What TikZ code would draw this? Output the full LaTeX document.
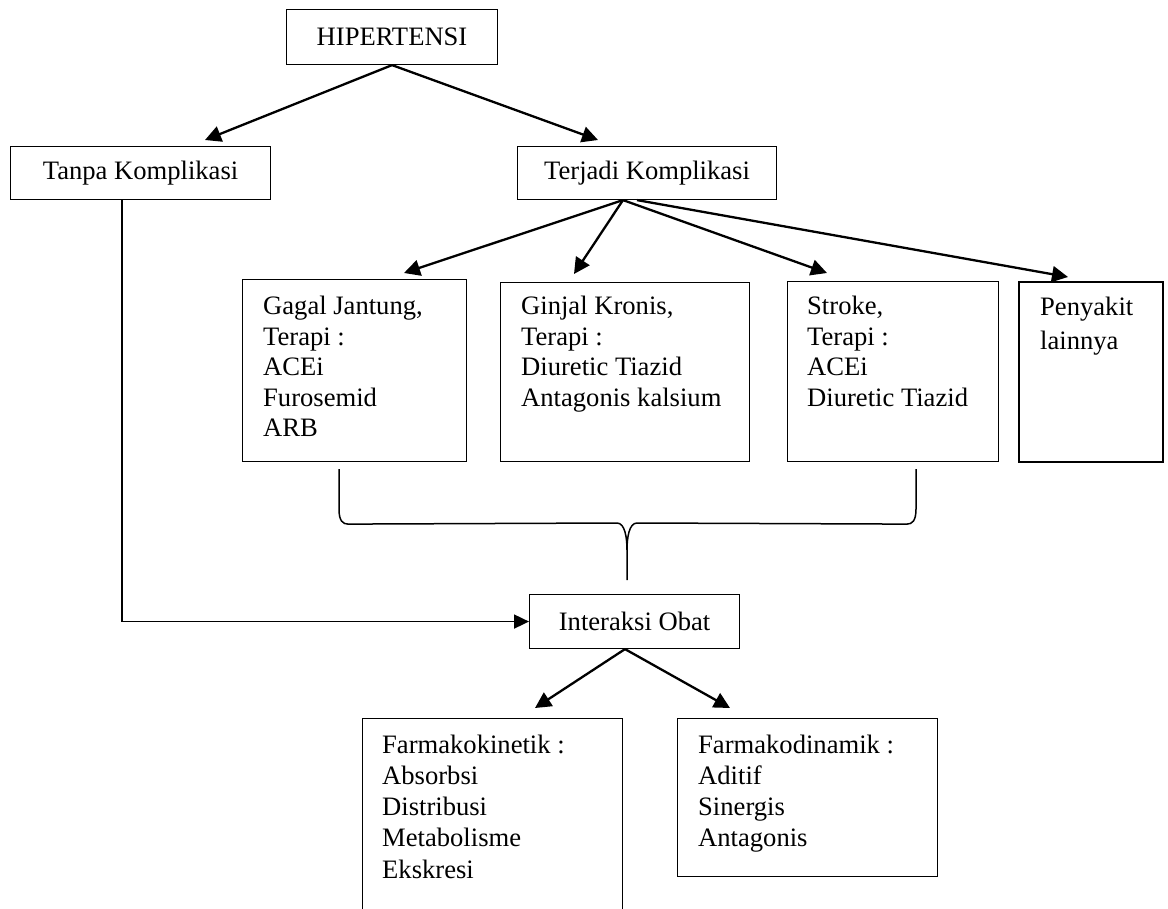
\documentclass[tikz,border=0pt]{standalone}
\usepackage{fontspec}
\setmainfont{Liberation Serif}
\usetikzlibrary{arrows.meta,calc}
\newcommand\linesbox[1]{\parbox[t]{300pt}{\raggedright #1}}
\begin{document}
\begin{tikzpicture}[x=1pt,y=-1pt,
  every node/.style={font=\fontsize{26.6}{30.5}\selectfont},
  box/.style={draw, line width=1.1pt, inner sep=0pt, anchor=north west},
  txt/.style={anchor=base west, inner sep=0pt},
  arr/.style={line width=2.3pt, -{Triangle[length=16pt,width=16pt]}},
  thinline/.style={line width=1.5pt},
  ]
\useasboundingbox (0,0) rectangle (1168,909);
\clip (0,0) rectangle (1168,909);

% boxes
\node[box, minimum width=211, minimum height=55] (hip) at (286,9) {HIPERTENSI};
\node[box, minimum width=260, minimum height=53] (tanpa) at (10,146) {Tanpa Komplikasi};
\node[box, minimum width=259, minimum height=53] (terjadi) at (517,146) {Terjadi Komplikasi};
\node[box, minimum width=224, minimum height=182] (gagal) at (242,279) {};
\node[box, minimum width=249, minimum height=179] (ginjal) at (500,282) {};
\node[box, minimum width=211, minimum height=180] (stroke) at (787,281) {};
\node[box, line width=2pt, minimum width=144, minimum height=180] (lain) at (1018,281) {};
\node[box, minimum width=210, minimum height=54] (obat) at (529,594) {Interaksi Obat};
\node[box, minimum width=260, minimum height=230] (kinetik) at (362,718) {};
\node[box, minimum width=260, minimum height=158] (dinamik) at (677,718) {};

% texts
\node[txt] (tgagal) at ($(gagal.north west)+(21,36)$) {\linesbox{Gagal Jantung,\\Terapi :\\ACEi\\Furosemid\\ARB}};
\node[txt] (tginjal) at ($(ginjal.north west)+(21,33)$) {\linesbox{Ginjal Kronis,\\Terapi :\\Diuretic Tiazid\\Antagonis kalsium}};
\node[txt] (tstroke) at ($(stroke.north west)+(20,34)$) {\linesbox{Stroke,\\Terapi :\\ACEi\\Diuretic Tiazid}};
\node[txt] (tlain) at ($(lain.north west)+(22,35)$) {\fontsize{26.6}{34}\selectfont\linesbox{Penyakit\\lainnya}};
\node[txt] (tkinetik) at ($(kinetik.north west)+(20,35)$) {\fontsize{26.6}{31.3}\selectfont\linesbox{Farmakokinetik :\\Absorbsi\\Distribusi\\Metabolisme\\Ekskresi}};
\node[txt] (tdinamik) at ($(dinamik.north west)+(21,35)$) {\fontsize{26.6}{31.3}\selectfont\linesbox{Farmakodinamik :\\Aditif\\Sinergis\\Antagonis}};

% arrows from HIPERTENSI
\draw[arr] (hip.south) -- ($(tanpa.north west)+(195,-6)$);
\draw[arr] (hip.south) -- ($(terjadi.north west)+(81,-6)$);

% arrows from Terjadi Komplikasi
\coordinate (t0) at ($(terjadi.south west)+(106,0)$);
\coordinate (t1) at ($(terjadi.south west)+(120,0)$);
\draw[arr] (t0) -- ($(gagal.north west)+(162,-6)$);
\draw[arr] (t0) -- ($(ginjal.north west)+(74,-8)$);
\draw[arr] (t0) -- ($(stroke.north west)+(40,-8)$);
\draw[arr] (t1) -- ($(lain.north west)+(50,-4)$);

% Tanpa Komplikasi to Interaksi Obat
\draw[line width=1.8pt, -{Triangle[length=15pt,width=14pt]}] ($(tanpa.south west)+(112,0)$) |- (obat.west);

% brace
\coordinate (bl) at ($(gagal.south west)+(97,7)$);
\coordinate (br) at ($(stroke.south west)+(129,7)$);
\coordinate (btip) at ($(obat.north west)+(98,-14)$);
\draw[thinline] (bl) -- ++(0,40) .. controls +(0,12) and +(-5,0) .. ++(9,15)
  -- ($(btip)+(-10,-57)$) .. controls +(8,0) and +(0,-12) .. ($(btip)+(0,-30)$) -- (btip);
\draw[thinline] ($(btip)+(0,-30)$) .. controls +(0,-12) and +(-8,0) .. ($(btip)+(10,-57)$)
  -- ($(br)+(-9,55)$) .. controls +(5,0) and +(0,12) .. ($(br)+(0,40)$) -- (br);

% arrows from Interaksi Obat
\coordinate (o0) at ($(obat.south west)+(96,0)$);
\draw[arr] (o0) -- ($(kinetik.north west)+(173,-10)$);
\draw[arr] (o0) -- ($(dinamik.north west)+(53,-10)$);
\end{tikzpicture}
\end{document}
